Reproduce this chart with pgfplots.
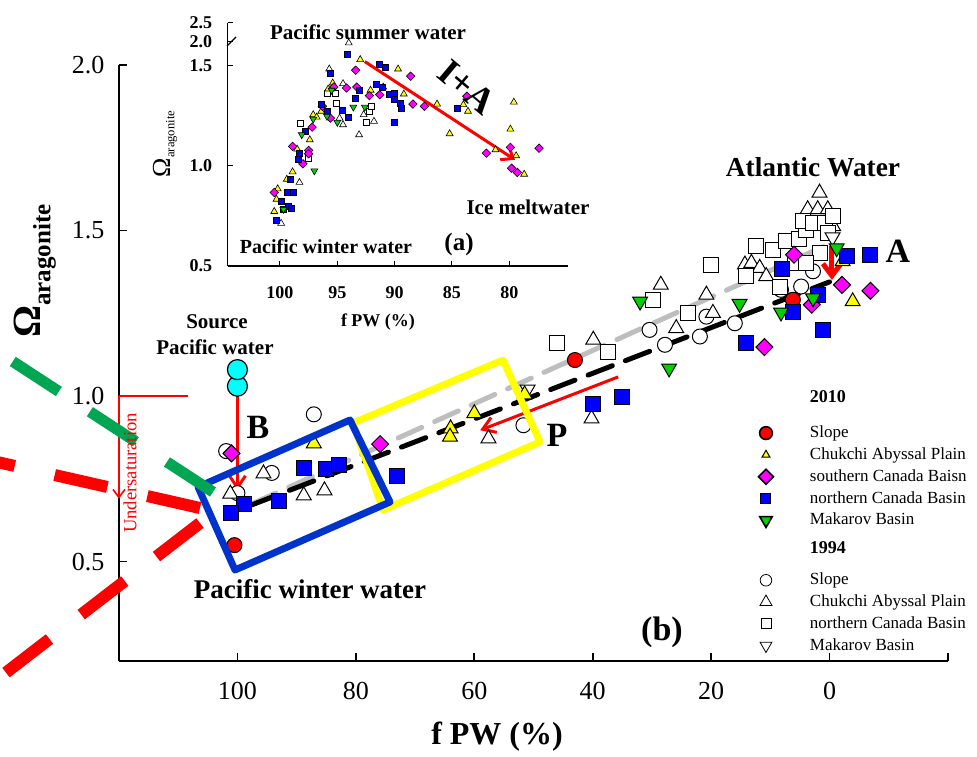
\documentclass[border=0pt]{standalone}
\usepackage{pgfplots}
\pgfplotsset{compat=1.18}
\usepackage{fontspec}
\setmainfont{Liberation Serif}
\usetikzlibrary{arrows.meta}

\definecolor{cy}{RGB}{0,255,255}
\definecolor{mg}{RGB}{255,0,255}
\definecolor{bl}{RGB}{0,0,255}
\definecolor{gr}{RGB}{0,210,0}
\definecolor{yl}{RGB}{255,255,0}
\definecolor{boxblue}{RGB}{0,51,204}
\definecolor{dashgreen}{RGB}{0,166,81}
\definecolor{lgray}{RGB}{190,190,190}

\newcommand\fs[1]{\fontsize{#1}{#1}\selectfont}

\begin{document}
\begin{tikzpicture}
\useasboundingbox (-59.5pt,-47.5pt) rectangle (429pt,330.5pt);

% ---------------- main panel (b)
\begin{axis}[
  at={(0pt,0pt)}, anchor=south west,
  scale only axis, width=414.5pt, height=298pt,
  x dir=reverse, xmin=-20, xmax=120, ymin=0.2, ymax=2.0,
  axis x line*=bottom, axis y line*=left,
  axis line style={-, line width=1pt},
  xtick={100,80,60,40,20,0,-20}, xticklabels={100,80,60,40,20,0,{}},
  ytick={0.5,1,1.5,2}, yticklabels={0.5,1.0,1.5,2.0},
  tick align=inside, major tick length=4pt,
  tick style={black, line width=0.8pt},
  ticklabel style={font=\fs{13}},
  xticklabel style={yshift=-7pt},
  yticklabel style={xshift=-3.8pt},
  clip=false,
  legend image code/.code={\draw[#1] plot coordinates {(0pt,2.3pt)};},
  legend style={at={(0.7714,0.4586)}, anchor=north west, draw=none, fill=none,
    inner sep=0pt, outer sep=0pt, row sep=0pt, column sep=18.25pt,
    nodes={inner sep=0pt, outer sep=0pt, text height=7.5pt, text depth=3.4pt, font=\fs{8.5}},
    cells={anchor=base west}},
]
% 1994 Slope
\addplot[only marks, forget plot, mark=*, mark size=3.75pt,
  mark options={draw=black, line width=0.5pt, fill=white}] coordinates {
  (87.1,0.945) (101.9,0.834) (100,0.707) (94.2,0.768) (51.7,0.912)
  (30.4,1.2) (27.8,1.155) (21.9,1.18) (20.8,1.24) (16.0,1.22)
  (8.2,1.321) (4.8,1.331) (2.8,1.377)};
% 1994 Chukchi Abyssal Plain
\addplot[only marks, forget plot, mark=triangle*, mark size=4.3pt,
  mark options={draw=black, line width=0.5pt, fill=white}] coordinates {
  (88.8,0.7) (85.3,0.715) (95.6,0.766) (101.2,0.705) (57.6,0.872)
  (40.2,0.932) (39.9,1.17) (28.5,1.336) (25.9,1.205) (20.8,1.306)
  (19.7,1.251) (14.3,1.397) (13.2,1.402) (11.8,1.387) (10.7,1.362)
  (1.7,1.614) (3.7,1.564) (2.0,1.564) (0.3,1.564) (-0.6,1.513)};
% 1994 northern Canada Basin
\addplot[only marks, forget plot, mark=square*, mark size=3.75pt,
  mark options={draw=black, line width=0.5pt, fill=white}] coordinates {
  (46.1,1.16) (37.4,1.134) (20.0,1.397) (29.8,1.291) (23.9,1.252)
  (12.4,1.452) (9.6,1.442) (14.1,1.362) (8.4,1.331) (7.3,1.468)
  (5.1,1.473) (3.9,1.503) (4.5,1.528) (2.8,1.523) (0.8,1.523)
  (-0.6,1.545) (0.3,1.493) (1.7,1.432) (5.9,1.402) (3.9,1.402)};
% 1994 Makarov Basin
\addplot[only marks, forget plot, mark=triangle*, mark size=4.3pt,
  mark options={draw=black, line width=0.5pt, fill=white, rotate=180}] coordinates {
  (51.0,1.02) (-0.5,1.48)};

% regression lines
\addplot[forget plot, lgray, line width=2.5pt, dash pattern=on 13pt off 7pt, line cap=round]
  coordinates {(97.5,0.675) (0,1.46)};
\addplot[forget plot, black, line width=2.5pt, dash pattern=on 13pt off 7pt, line cap=round]
  coordinates {(97.5,0.672) (0,1.345)};

% 2010 Slope
\addplot[only marks, forget plot, mark=*, mark size=3.75pt,
  mark options={draw=black, line width=0.5pt, fill=red}] coordinates {
  (100.5,0.55) (43.0,1.109) (6.2,1.291)};
% 2010 Chukchi Abyssal Plain
\addplot[only marks, forget plot, mark=triangle*, mark size=4.3pt,
  mark options={draw=black, line width=0.5pt, fill=yl}] coordinates {
  (87.1,0.857) (60.0,0.948) (64.0,0.902) (64.1,0.877) (51.5,1.005)
  (-3.9,1.286) (-2.2,1.407)};
% 2010 southern Canada Basin
\addplot[only marks, forget plot, mark=square*, mark size=3pt,
  mark options={draw=black, line width=0.5pt, fill=mg, rotate=45}] coordinates {
  (101,0.827) (75.9,0.855) (6.0,1.427) (-2.1,1.336) (-6.9,1.318)
  (3.0,1.276) (11.0,1.148)};
% 2010 northern Canada Basin
\addplot[only marks, forget plot, mark=square*, mark size=3.75pt,
  mark options={draw=black, line width=0.5pt, fill=bl}] coordinates {
  (98.9,0.673) (101,0.648) (92.9,0.683) (88.8,0.784) (85,0.781)
  (82.9,0.792) (73.0,0.758) (40.0,0.976) (35.0,0.998) (14.1,1.16)
  (8.0,1.384) (-2.9,1.422) (-6.8,1.425) (2.0,1.304) (6.1,1.254) (1.1,1.2)};
% 2010 Makarov Basin
\addplot[only marks, forget plot, mark=triangle*, mark size=4.3pt,
  mark options={draw=black, line width=0.5pt, fill=gr, rotate=180}] coordinates {
  (32.0,1.286) (27.1,1.084) (15.2,1.279) (8.2,1.253) (-1.2,1.447) (2.8,1.296)};
% source Pacific water
\addplot[only marks, forget plot, mark=*, mark size=5pt,
  mark options={draw=black, line width=0.6pt, fill=cy}] coordinates {
  (100,1.03) (100,1.08)};

% arrows
\draw[red, line width=1.5pt, -{Straight Barb[length=6pt,width=8pt]}]
  (axis cs:100,1.06) -- (axis cs:100,0.715);
\draw[red, line width=1.5pt, -{Straight Barb[length=6pt,width=8pt]}]
  (axis cs:35.7,1.058) -- (axis cs:59,0.897);
\draw[red, line width=2.5pt, -{Straight Barb[length=6pt,width=9pt]}]
  (axis cs:-0.4,1.452) -- (axis cs:-0.4,1.351);
\draw[red, line width=0.8pt] (axis cs:120,1.0) -- (axis cs:108.4,1.0);
\draw[red, line width=0.8pt, -{Straight Barb[length=4pt,width=6pt]}]
  (axis cs:120,1.0) -- (axis cs:120,0.69);

% legend
\addlegendimage{empty legend}
\addlegendentry[text depth=10pt, font=\bfseries\fs{9}]{2010}
\addlegendimage{mark=*, mark size=3.2pt, mark options={draw=black, line width=0.8pt, fill=red}}
\addlegendentry{Slope}
\addlegendimage{mark=triangle*, mark size=2.3pt, mark options={draw=black, line width=0.5pt, fill=yl}}
\addlegendentry{Chukchi Abyssal Plain}
\addlegendimage{mark=square*, mark size=2.65pt, mark options={draw=black, line width=0.8pt, fill=mg, rotate=45}}
\addlegendentry{southern Canada Baisn}
\addlegendimage{mark=square*, mark size=2.5pt, mark options={draw=black, line width=0.5pt, fill=bl}}
\addlegendentry{northern Canada Basin}
\addlegendimage{mark=triangle*, mark size=3.6pt, mark options={draw=black, line width=0.8pt, fill=gr, rotate=180}}
\addlegendentry{Makarov Basin}
\addlegendimage{empty legend}
\addlegendentry[text height=11.1pt, text depth=8pt, font=\bfseries\fs{9}]{1994}
\addlegendimage{mark=*, mark size=2.9pt, mark options={draw=black, line width=0.4pt, fill=white}}
\addlegendentry{Slope}
\addlegendimage{mark=triangle*, mark size=3.5pt, mark options={draw=black, line width=0.4pt, fill=white}}
\addlegendentry{Chukchi Abyssal Plain}
\addlegendimage{mark=square*, mark size=2.5pt, mark options={draw=black, line width=0.4pt, fill=white}}
\addlegendentry{northern Canada Basin}
\addlegendimage{mark=triangle*, mark size=3.4pt, mark options={draw=black, line width=0.4pt, fill=white, rotate=180}}
\addlegendentry{Makarov Basin}
\end{axis}

% ---------------- inset panel (a)
\begin{axis}[
  at={(54.35pt,197.5pt)}, anchor=south west,
  scale only axis, width=170.3pt, height=121.65pt,
  x dir=reverse, xmin=74.85, xmax=104.56, ymin=0.5, ymax=1.714,
  axis x line*=bottom, axis y line*=left,
  axis line style={-, line width=0.6pt},
  xtick={100,95,90,85,80}, xticklabels={100,95,90,85,80},
  ytick={0.5,1,1.5,1.62,1.714}, yticklabels={0.5,1.0,1.5,2.0,2.5},
  tick align=inside, major tick length=2.5pt, tick style={black, line width=0.5pt},
  ticklabel style={font=\bfseries\fs{9}},
  xticklabel style={yshift=-6.8pt},
  yticklabel style={xshift=-4.2pt},
  clip=false,
]
\addplot[only marks, mark=triangle*, mark size=2pt,
  mark options={draw=black, line width=0.3pt, fill=white}] coordinates {
  (99.9,0.713) (98.3,0.917) (95.7,1.483) (94.0,1.613) (93.1,1.155)
  (91.8,1.222) (92.7,1.255) (94.8,1.238) (94.5,1.41) (91.0,1.393) (94.5,1.205)};
\addplot[only marks, mark=square*, mark size=1.5pt,
  mark options={draw=black, line width=0.3pt, fill=white}] coordinates {
  (98.2,1.213) (97.5,1.038) (95.9,1.36) (95.2,1.36) (95.1,1.31)
  (92.5,1.217) (92.2,1.272) (92.0,1.297)};
\addplot[only marks, mark=triangle*, mark size=2pt,
  mark options={draw=black, line width=0.3pt, fill=yl}] coordinates {
  (100.5,0.772) (100.3,0.833) (100.2,0.885) (99.4,0.933) (98.9,0.97)
  (98.5,1.083) (97.4,1.13) (97.1,1.255) (96.8,1.243) (96.4,1.272)
  (95.8,1.383) (95.4,1.413) (93.0,1.53) (92.1,1.377) (89.7,1.483)
  (89.2,1.358) (86.3,1.308) (85.2,1.16) (84.0,1.305) (83.6,1.272)
  (79.6,1.318) (79.9,1.183) (79.4,1.05) (78.7,0.958) (81.2,1.08)};
\addplot[only marks, mark=square*, mark size=1.5pt,
  mark options={draw=black, line width=0.3pt, fill=mg, rotate=45}] coordinates {
  (100.5,0.867) (98.9,1.097) (97.5,1.077) (97.5,1.06) (98.0,1.01)
  (97.2,1.193) (96.3,1.297) (95.6,1.238) (95.3,1.393) (94.2,1.388)
  (93.4,1.477) (93.3,1.393) (92.2,1.35) (91.3,1.355) (88.6,1.447)
  (88.4,1.308) (87.4,1.297) (83.7,1.347) (82.0,1.063) (79.9,1.092)
  (79.8,0.988) (79.3,0.967) (77.4,1.088)};
\addplot[only marks, mark=square*, mark size=1.5pt,
  mark options={draw=black, line width=0.3pt, fill=bl}] coordinates {
  (100.3,0.73) (99.9,0.822) (99.7,0.783) (99.4,0.867) (98.8,0.867)
  (99.3,0.8) (99.0,0.788) (99.1,0.933) (98.3,1.063) (98.4,1.033)
  (97.8,1.172) (96.4,1.305) (95.9,1.272) (95.6,1.46) (94.1,1.555)
  (94.6,1.277) (94.0,1.243) (93.4,1.338) (93.1,1.377) (91.3,1.505)
  (90.8,1.492) (91.6,1.405) (91.1,1.393) (90.5,1.355) (90.0,1.363)
  (90.0,1.333) (89.5,1.31) (89.4,1.288) (90.0,1.217) (84.5,1.288)};
\addplot[only marks, mark=triangle*, mark size=2pt,
  mark options={draw=black, line width=0.3pt, fill=gr, rotate=180}] coordinates {
  (99.7,0.783) (98.1,1.155) (97.1,1.233) (95.9,1.247) (97.0,0.975)
  (95.0,1.217) (93.6,1.293) (92.6,1.293) (95.5,1.377)};
\draw[red, line width=1.5pt, -{Straight Barb[length=5pt,width=8pt]}]
  (axis cs:92.6,1.52) -- (axis cs:79.5,1.03);
\end{axis}

% ---------------- annotations, in picture pixels
\begin{scope}[x=0.5pt, y=-0.5pt, shift={(-59.5pt,330.5pt)}]
\draw[yl, line width=3.5pt, line join=round] (353,423) -- (503,360) -- (540,442) -- (383,510) -- cycle;
\draw[boxblue, line width=3.5pt, line join=round] (198,487) -- (350,420) -- (390,502) -- (235,570) -- cycle;
\draw[dashgreen, line width=5.5pt, dash pattern=on 27.5pt off 18.5pt] (213,492) -- (-40,327);
\draw[red, line width=6pt, dash pattern=on 27pt off 20.5pt] (200,508) -- (-60,449);
\draw[red, line width=6pt, dash pattern=on 27.5pt off 20pt] (200,523) -- (-40,708);
\draw[line width=0.6pt] (227,46) -- (236,37);

\node[font=\bfseries\fs{13.7}] at (813,167) {Atlantic Water};
\node[font=\bfseries\fs{17}] at (898,251) {A};
\node[font=\bfseries\fs{17}] at (258,427) {B};
\node[font=\bfseries\fs{17}] at (557,435) {P};
\node[font=\bfseries\fs{10.5}] at (217,322) {Source};
\node[font=\bfseries\fs{10.5}] at (215,347) {Pacific water};
\node[font=\bfseries\fs{13.5}] at (310,589) {Pacific winter water};
\node[font=\bfseries\fs{17}] at (662,632) {(b)};
\node[font=\fs{9.3}, text=red, rotate=90] at (130,473) {Undersaturation};
\node[font=\bfseries\fs{16}] at (497,737) {f PW (\%)};
\node[rotate=90, font=\bfseries] at (35,271) {\fs{20}Ω\raisebox{-5pt}{\fs{12.5}aragonite}};

\node[font=\bfseries\fs{10.5}] at (368,32) {Pacific summer water};
\node[font=\bfseries\fs{18.5}, rotate=-40, inner sep=0pt] at (467,87) {I+A};
\node[font=\bfseries\fs{10.5}] at (528,207) {Ice meltwater};
\node[font=\bfseries\fs{10}] at (326,247) {Pacific winter water};
\node[font=\bfseries\fs{12.5}] at (459,244) {(a)};
\node[font=\bfseries\fs{9}] at (378,322) {f PW (\%)};
\node[rotate=90] at (165,144) {\fs{13}Ω\raisebox{-2pt}{\fs{6.3}aragonite}};
\end{scope}
\end{tikzpicture}
\end{document}
